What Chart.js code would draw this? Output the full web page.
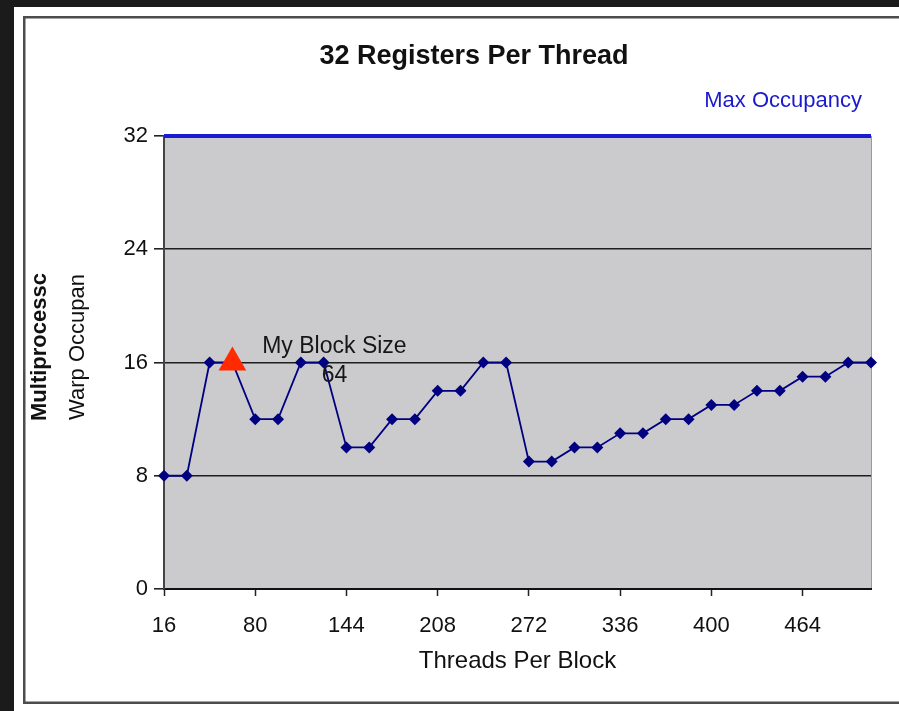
<!DOCTYPE html>
<html>
<head>
<meta charset="utf-8">
<title>32 Registers Per Thread</title>
<script src="https://cdn.jsdelivr.net/npm/chart.js@4/dist/chart.umd.min.js"></script>
<style>
  html, body { margin: 0; padding: 0; background: #1b1b1b; overflow: hidden; }
  canvas { display: block; }
</style>
</head>
<body>
<canvas id="occupancy" width="899" height="711"></canvas>
<script>
// Threads per block (x) and resulting multiprocessor warp occupancy (y)
const threadsPerBlock = [16, 32, 48, 64, 80, 96, 112, 128, 144, 160, 176, 192, 208, 224, 240, 256,
                         272, 288, 304, 320, 336, 352, 368, 384, 400, 416, 432, 448, 464, 480, 496, 512];
const warpOccupancy   = [8, 8, 16, 16, 12, 12, 16, 16, 10, 10, 12, 12, 14, 14, 16, 16,
                         9, 9, 10, 10, 11, 11, 12, 12, 13, 13, 14, 14, 15, 15, 16, 16];

// Ceiling of the device and the currently chosen configuration
const maxOccupancy = 32;
const myBlockSize = 64;
const myBlockOccupancy = 16;

// Axis ticks
const xTickLabels = [16, 80, 144, 208, 272, 336, 400, 464];
const yTickStep = 8;

const FONT = "'Liberation Sans', Arial, sans-serif";

const occupancyPoints = threadsPerBlock.map((t, i) => ({ x: t, y: warpOccupancy[i] }));
const maxPoints = [
  { x: threadsPerBlock[0], y: maxOccupancy },
  { x: threadsPerBlock[threadsPerBlock.length - 1], y: maxOccupancy }
];

// Page frame and grey plot background
const framePlugin = {
  id: 'frame',
  beforeDraw(chart) {
    const { ctx, width, height, chartArea: a } = chart;
    ctx.save();
    ctx.fillStyle = '#1b1b1b';
    ctx.fillRect(0, 0, width, height);
    ctx.fillStyle = '#ffffff';
    ctx.fillRect(14, 7, width - 14, height - 7);
    ctx.strokeStyle = '#4d4d4d';
    ctx.lineWidth = 2.5;
    ctx.strokeRect(24.25, 17.25, width + 20, height - 25.5);
    ctx.fillStyle = '#cbcbce';
    ctx.fillRect(a.left, a.top, a.right - a.left, a.bottom - a.top);
    ctx.strokeStyle = '#9a9a9a';
    ctx.lineWidth = 1;
    ctx.beginPath();
    ctx.moveTo(a.right + 0.5, a.top);
    ctx.lineTo(a.right + 0.5, a.bottom);
    ctx.stroke();
    ctx.restore();
  }
};

// Text labels: series name, chosen block size, y-axis title
const labelPlugin = {
  id: 'labels',
  afterDraw(chart) {
    const { ctx } = chart;
    ctx.save();

    // series name for the max occupancy line
    ctx.fillStyle = '#1a1acc';
    ctx.font = `22px ${FONT}`;
    ctx.textAlign = 'right';
    ctx.textBaseline = 'middle';
    ctx.fillText('Max Occupancy', 862, 101);

    // label attached to the chosen block size marker
    const pt = chart.getDatasetMeta(0).data[0];
    ctx.fillStyle = '#161616';
    ctx.font = `23px ${FONT}`;
    ctx.textAlign = 'center';
    ctx.fillText('My Block Size', pt.x + 102, pt.y - 16);
    ctx.fillText(String(myBlockSize), pt.x + 102, pt.y + 13);

    // y-axis title, two rotated lines
    const cy = 347;
    ctx.fillStyle = '#111111';
    ctx.translate(40, cy);
    ctx.rotate(-Math.PI / 2);
    ctx.font = `bold 22px ${FONT}`;
    ctx.fillText('Multiprocessc', 0, 0);
    ctx.restore();

    ctx.save();
    ctx.fillStyle = '#111111';
    ctx.textAlign = 'center';
    ctx.textBaseline = 'middle';
    ctx.translate(78, cy);
    ctx.rotate(-Math.PI / 2);
    ctx.font = `22px ${FONT}`;
    ctx.fillText('Warp Occupan', 0, 0);
    ctx.restore();
  }
};

new Chart(document.getElementById('occupancy'), {
  type: 'line',
  data: {
    datasets: [
      {
        label: 'My Block Size',
        data: [{ x: myBlockSize, y: myBlockOccupancy }],
        showLine: false,
        pointStyle: 'triangle',
        pointRadius: 16,
        pointHoverRadius: 16,
        backgroundColor: '#ff2a00',
        borderColor: '#ff2a00',
        borderWidth: 0,
        clip: false,
        order: 0
      },
      {
        label: 'Warp Occupancy',
        data: occupancyPoints,
        borderColor: '#000080',
        backgroundColor: '#000080',
        borderWidth: 1.8,
        pointStyle: 'rectRot',
        pointRadius: 6,
        pointHoverRadius: 6,
        pointBorderWidth: 0,
        tension: 0,
        clip: false,
        order: 1
      },
      {
        label: 'Max Occupancy',
        data: maxPoints,
        borderColor: '#1a1ad0',
        borderWidth: 4,
        pointRadius: 0,
        clip: false,
        order: 2
      }
    ]
  },
  options: {
    responsive: false,
    animation: false,
    events: [],
    layout: { padding: { left: 77, right: 28, top: 0, bottom: 0 } },
    plugins: {
      legend: { display: false },
      tooltip: { enabled: false },
      title: {
        display: true,
        text: '32 Registers Per Thread',
        color: '#111111',
        font: { family: FONT, size: 27, weight: 'bold', lineHeight: 1.2 },
        padding: { top: 40, bottom: 63.6 }
      }
    },
    scales: {
      x: {
        type: 'linear',
        min: threadsPerBlock[0],
        max: threadsPerBlock[threadsPerBlock.length - 1],
        afterBuildTicks(scale) {
          scale.ticks = xTickLabels.map(v => ({ value: v }));
        },
        afterFit(scale) { scale.height = 122; },
        ticks: {
          autoSkip: false,
          maxRotation: 0,
          padding: 17,
          color: '#111111',
          font: { family: FONT, size: 22 },
          callback: v => String(v)
        },
        grid: {
          drawOnChartArea: false,
          drawTicks: true,
          tickLength: 7,
          tickColor: '#222222',
          tickWidth: 1.5
        },
        border: { display: true, color: '#111111', width: 2 },
        title: {
          display: true,
          text: 'Threads Per Block',
          color: '#111111',
          font: { family: FONT, size: 24, lineHeight: 1.2 },
          padding: { top: 0, bottom: 35 }
        }
      },
      y: {
        type: 'linear',
        min: 0,
        max: maxOccupancy,
        afterFit(scale) { scale.width = 87; },
        ticks: {
          stepSize: yTickStep,
          padding: 6,
          color: '#111111',
          font: { family: FONT, size: 22 }
        },
        grid: {
          color: '#1e1e1e',
          lineWidth: 1.6,
          drawTicks: true,
          tickLength: 10,
          tickColor: '#222222'
        },
        border: { display: true, color: '#444444', width: 2 }
      }
    }
  },
  plugins: [framePlugin, labelPlugin]
});
</script>
</body>
</html>
